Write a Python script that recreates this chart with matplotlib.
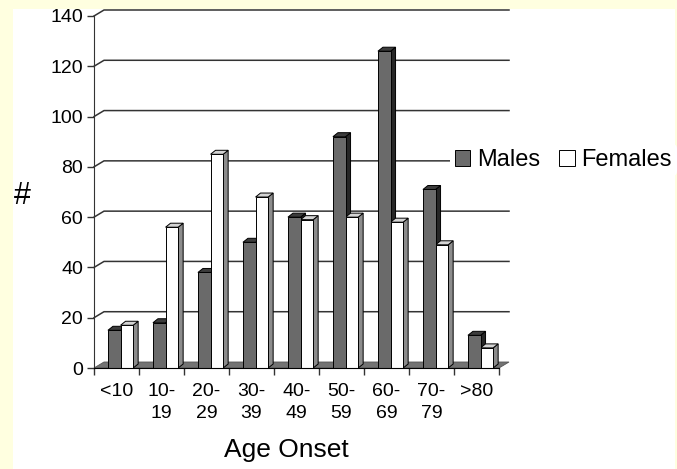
import matplotlib.pyplot as plt
from matplotlib.patches import Polygon, Rectangle, Patch

plt.rcParams['font.family'] = ['Liberation Sans', 'DejaVu Sans']

categories = ["<10", "10-\n19", "20-\n29", "30-\n39", "40-\n49", "50-\n59", "60-\n69", "70-\n79", ">80"]
males = [15, 18, 38, 50, 60, 92, 126, 71, 13]
females = [17, 56, 85, 68, 59, 60, 58, 49, 8]
yticks = [0, 20, 40, 60, 80, 100, 120, 140]

W, H = 677, 469
fig = plt.figure(figsize=(W / 100, H / 100), dpi=100)
fig.patch.set_facecolor("#ffffe0")
# white card behind the chart
fig.patches.append(Rectangle((13 / W, 0), 662 / W, 460 / H, transform=fig.transFigure,
                             facecolor="white", edgecolor="none", zorder=-10))

# axes box in pixels: x 94..499, y 16..368 (from top)
ax = fig.add_axes([94 / W, (H - 368) / H, 405 / W, 352 / H])
ax.set_facecolor("none")
n = len(categories)
ax.set_xlim(-0.5, n - 0.5)
ax.set_ylim(0, 140)

ppx = 405 / n        # pixels per category
ppy = 352 / 140      # pixels per unit

# depth of back wall and of bars (pixels -> data)
wall_dx, wall_dy = 10 / ppx, 6 / ppy
bar_dx, bar_dy = 5 / ppx, 4 / ppy

# back wall gridlines
for y in yticks[1:]:
    ax.plot([-0.5, -0.5 + wall_dx, n - 0.5 + wall_dx], [y, y + wall_dy, y + wall_dy],
            color="#333333", lw=1.1, zorder=1, clip_on=False)

# floor
ax.add_patch(Polygon([(-0.5, 0), (n - 0.5, 0), (n - 0.5 + wall_dx, wall_dy), (-0.5 + wall_dx, wall_dy)],
                     closed=True, facecolor="#737373", edgecolor="#555555", lw=0.6, zorder=2, clip_on=False))

w = 0.28
shift = 0.09
xs = list(range(n))


def bars3d(pos, vals, front, side, top):
    ax.bar(pos, vals, width=w, color=front, edgecolor="black", linewidth=0.7, zorder=4)
    for x, v in zip(pos, vals):
        x0, x1 = x - w / 2, x + w / 2
        ax.add_patch(Polygon([(x1, 0), (x1 + bar_dx, bar_dy), (x1 + bar_dx, v + bar_dy), (x1, v)],
                             closed=True, facecolor=side, edgecolor="black", lw=0.7, zorder=3))
        ax.add_patch(Polygon([(x0, v), (x0 + bar_dx, v + bar_dy), (x1 + bar_dx, v + bar_dy), (x1, v)],
                             closed=True, facecolor=top, edgecolor="black", lw=0.7, zorder=3,
                             clip_on=False))


bars3d([x - w / 2 + shift for x in xs], males, "#6a6a6a", "#262626", "#3c3c3c")
bars3d([x + w / 2 + shift for x in xs], females, "white", "#8c8c8c", "#d4d4d4")

for s in ["top", "right"]:
    ax.spines[s].set_visible(False)
ax.spines["left"].set_color("#333333")
ax.spines["bottom"].set_color("black")
ax.spines["left"].set_zorder(6)
ax.spines["bottom"].set_zorder(6)

ax.set_yticks(yticks)
ax.set_yticklabels([str(v) for v in yticks], fontsize=14)
ax.tick_params(axis="y", length=5, width=1, color="#333333", pad=3)

ax.set_xticks(xs)
ax.set_xticklabels(categories, fontsize=14, linespacing=1.35)
ax.set_xticks([x - 0.5 for x in range(n + 1)], minor=True)
ax.tick_params(axis="x", which="major", length=0, pad=11)
ax.tick_params(axis="x", which="minor", length=5, width=1, color="#333333")

fig.text(22 / W, (H - 196) / H, "#", fontsize=22, ha="center", va="center")
fig.text(286 / W, (H - 450) / H, "Age Onset", fontsize=19, ha="center", va="center")

handles = [Patch(facecolor="#6a6a6a", edgecolor="black", lw=0.7, label="Males"),
           Patch(facecolor="white", edgecolor="black", lw=0.7, label="Females")]
leg = fig.legend(handles=handles, loc="center left", bbox_to_anchor=(450 / W, (H - 160) / H),
                 ncol=2, fontsize=17, frameon=True, facecolor="white", edgecolor="none",
                 framealpha=1, handlelength=0.65, handleheight=0.65, handletextpad=0.3,
                 columnspacing=0.8, borderpad=0.2, borderaxespad=0)
leg.set_zorder(10)

fig.savefig("out.png", dpi=100, facecolor=fig.get_facecolor())
